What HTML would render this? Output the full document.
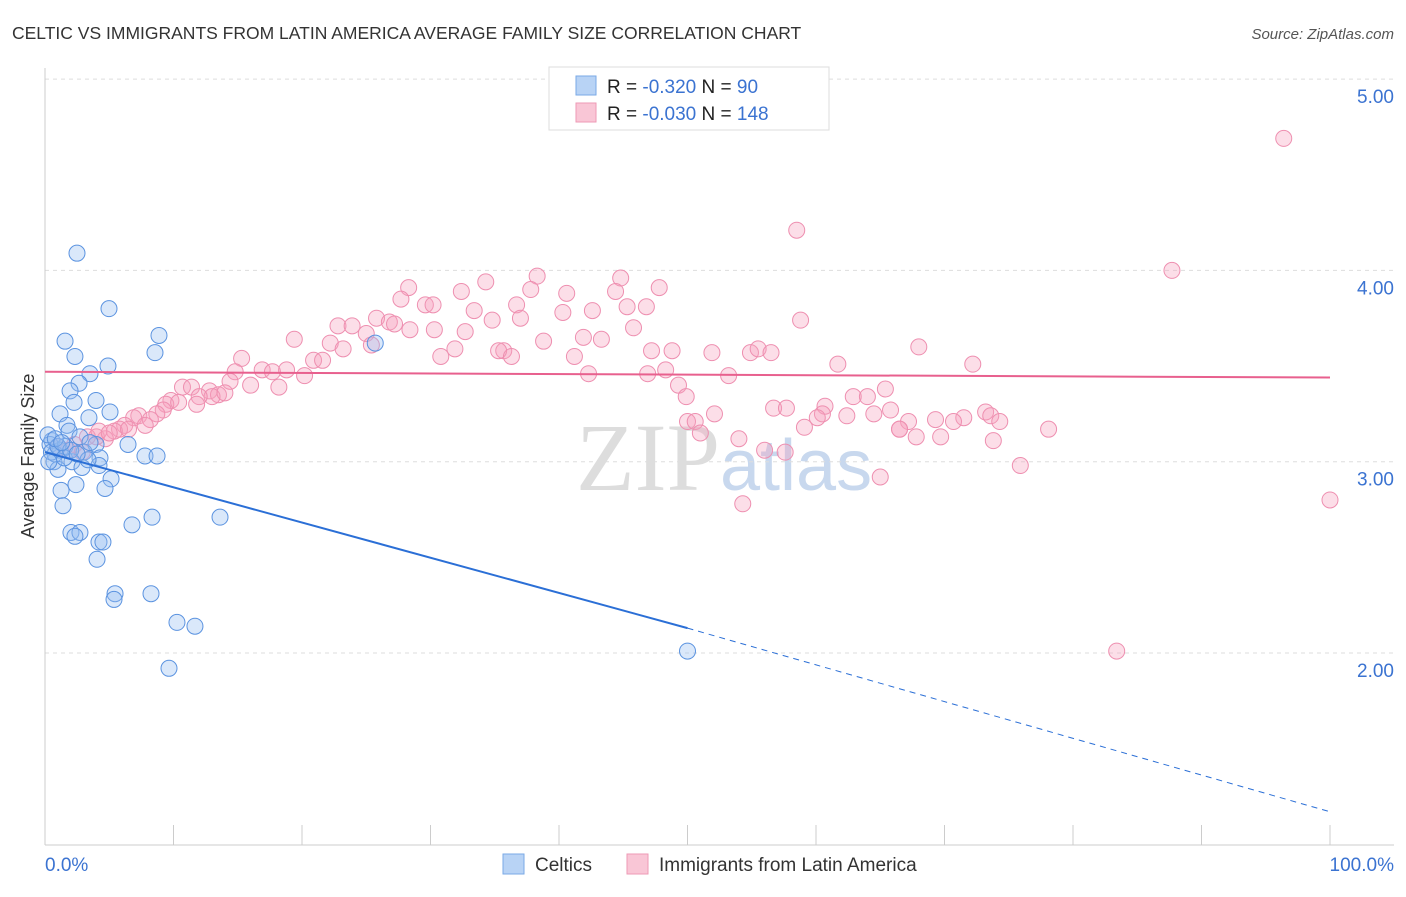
<!DOCTYPE html>
<html><head><meta charset="utf-8"><style>
body{margin:0;background:#fff;font-family:"Liberation Sans",sans-serif;}
</style></head><body>
<svg id="c" width="1406" height="892" xmlns="http://www.w3.org/2000/svg">
<text x="12" y="39" font-size="17.5" fill="#333">CELTIC VS IMMIGRANTS FROM LATIN AMERICA AVERAGE FAMILY SIZE CORRELATION CHART</text>
<text x="1394" y="39" font-size="15" fill="#555" font-style="italic" text-anchor="end">Source: ZipAtlas.com</text>
<text x="720" y="490" font-size="96" fill="#ddd" font-family="Liberation Serif,serif" text-anchor="end">ZIP</text>
<text x="720" y="490" font-size="72" fill="#c8d8ee" text-anchor="start">atlas</text>
<g id="grid"></g><g id="axes"></g><g id="pts"></g><g id="trend"></g>
<g>
<rect x="549" y="67" width="280" height="63" fill="#fff" stroke="#ddd"/>
<rect x="576" y="76" width="20" height="19" fill="#b8d3f5" stroke="#7aaae6"/>
<rect x="576" y="103" width="20" height="19" fill="#f9c6d6" stroke="#ee9ab5"/>
<text x="607" y="93" font-size="19" fill="#222">R = <tspan fill="#3b73d1">-0.320</tspan>   N = <tspan fill="#3b73d1"> 90</tspan></text>
<text x="607" y="120" font-size="19" fill="#222">R = <tspan fill="#3b73d1">-0.030</tspan>   N = <tspan fill="#3b73d1">148</tspan></text>
</g>
<g>
<rect x="503" y="854" width="21" height="20" fill="#b8d3f5" stroke="#7aaae6"/>
<text x="535" y="871" font-size="19" fill="#333">Celtics</text>
<rect x="627" y="854" width="21" height="20" fill="#f9c6d6" stroke="#ee9ab5"/>
<text x="659" y="871" font-size="19" fill="#333">Immigrants from Latin America</text>
</g>
<text x="45" y="871" font-size="19" fill="#3b73d1">0.0%</text>
<text x="1394" y="871" font-size="19" fill="#3b73d1" text-anchor="end">100.0%</text>
<text transform="translate(34,456) rotate(-90)" font-size="18" fill="#333" text-anchor="middle">Average Family Size</text>
</svg>
<script>
const yTicks=[2,3,4,5];
const yTickLabels=["2.00","3.00","4.00","5.00"];
const blueX=[2.49,4.98,1.56,8.87,2.33,8.56,4.9,3.5,2.65,1.95,3.97,2.26,5.06,1.17,3.42,1.71,1.87,2.72,0.54,6.46,3.97,1.17,3.04,4.28,7.78,8.72,0.7,2.1,4.2,2.88,5.14,2.41,1.25,4.67,1.4,8.33,13.62,6.77,2.02,2.72,2.33,4.2,4.51,4.05,5.45,8.25,5.37,10.27,11.67,9.65,50,25.7,0.39,0.78,1.56,3.5,1.01,3.35,0.23,0.5,1.0,1.5,2.0,2.5,0.3,0.8,1.3];
const blueY=[4.09,3.8,3.63,3.66,3.55,3.57,3.5,3.46,3.41,3.37,3.32,3.31,3.26,3.25,3.23,3.19,3.16,3.13,3.11,3.09,3.09,3.06,3.05,3.02,3.03,3.03,3.0,3.0,2.98,2.97,2.91,2.88,2.85,2.86,2.77,2.71,2.71,2.67,2.63,2.63,2.61,2.58,2.58,2.49,2.31,2.31,2.28,2.16,2.14,1.92,2.01,3.62,3.09,3.04,3.08,3.1,2.96,3.01,3.14,3.05,3.08,3.02,3.06,3.04,3.0,3.12,3.1];
const pinkX=[96.4,58.5,87.7,83.4,100,28.3,34.3,38.3,44.8,47.8,32.4,37.8,40.6,44.4,27.7,29.6,30.2,36.7,33.4,45.3,42.6,40.3,46.8,25.8,26.8,37,34.8,22.8,23.9,27.2,30.3,32.7,45.8,58.8,19.4,22.2,23.2,25,25.4,28.4,31.9,38.8,41.9,43.3,35.7,35.3,36.3,30.8,41.2,47.2,48.8,51.9,54.9,55.5,56.5,68,72.2,61.7,15.3,20.9,21.6,16.9,17.7,14.8,20.2,18.8,42.3,46.9,48.3,53.2,14.4,10.7,11.4,16,18.2,49.3,49.9,12.8,13.5,13,12,14,9.8,9.4,10.4,11.8,9.2,65.4,62.9,64,8.7,7.3,6.9,8.2,6.2,5.8,52.1,56.7,57.7,60.7,60.5,64.5,65.8,60.1,62.4,73.2,71.5,73.6,74.3,67.2,66.5,70.7,69.3,50,50.6,51,59.1,66.5,5.4,4.7,4,3.3,4.2,54,67.8,69.7,73.8,78.1,56,57.6,75.9,65,54.3,1.8,2.3,1,2.9,6.5,7.8,5];
const pinkY=[4.69,4.21,4,2.01,2.8,3.91,3.94,3.97,3.96,3.91,3.89,3.9,3.88,3.89,3.85,3.82,3.82,3.82,3.79,3.81,3.79,3.78,3.81,3.75,3.73,3.75,3.74,3.71,3.71,3.72,3.69,3.68,3.7,3.74,3.64,3.62,3.59,3.67,3.61,3.69,3.59,3.63,3.65,3.64,3.58,3.58,3.55,3.55,3.55,3.58,3.58,3.57,3.57,3.59,3.57,3.6,3.51,3.51,3.54,3.53,3.53,3.48,3.47,3.47,3.45,3.48,3.46,3.46,3.48,3.45,3.42,3.39,3.39,3.4,3.39,3.4,3.34,3.37,3.35,3.34,3.34,3.36,3.32,3.3,3.31,3.3,3.27,3.38,3.34,3.34,3.25,3.24,3.23,3.22,3.19,3.17,3.25,3.28,3.28,3.29,3.25,3.25,3.27,3.23,3.24,3.26,3.23,3.24,3.21,3.21,3.17,3.21,3.22,3.21,3.21,3.15,3.18,3.17,3.16,3.12,3.13,3.13,3.16,3.12,3.13,3.13,3.11,3.17,3.06,3.05,2.98,2.92,2.78,3.06,3.09,3.08,3.05,3.17,3.19,3.15];
const blueTrend=[[0,3.05],[50,2.13],[100,1.17]];
const pinkTrend=[[0,3.47],[100,3.44]];
const NS="http://www.w3.org/2000/svg";
const X=v=>45+v*12.85, Y=v=>653-(v-2)*191.3;
function mk(t,a,p){const e=document.createElementNS(NS,t);for(const k in a)e.setAttribute(k,a[k]);document.getElementById(p).appendChild(e);return e;}
yTicks.forEach((t,i)=>{
 const l=mk('line',{x1:45,x2:1394,y1:Y(t),y2:Y(t),stroke:'#ddd','stroke-dasharray':'4,4'},'grid');
 
 
 const tx=mk('text',{x:1394,y:Y(t)+24,'font-size':19,fill:'#3b73d1','text-anchor':'end'},'grid');
 tx.textContent=yTickLabels[i];
 
 
});
const ax=mk('line',{x1:45,x2:45,y1:68,y2:845,stroke:'#ccc'},'axes');


const bx=mk('line',{x1:45,x2:1394,y1:845,y2:845,stroke:'#ccc'},'axes');


for(let i=0;i<=10;i++){const t=mk('line',{x1:X(i*10),x2:X(i*10),y1:825,y2:845,stroke:'#ccc'},'axes');
 
 }
pinkX.forEach((v,i)=>{const c=mk('circle',{cx:X(v),cy:Y(pinkY[i]),r:8,fill:'rgba(246,160,190,0.35)',stroke:'#ee8fb0','stroke-width':1},'pts');
 
 });
blueX.forEach((v,i)=>{const c=mk('circle',{cx:X(v),cy:Y(blueY[i]),r:8,fill:'rgba(150,190,240,0.35)',stroke:'#5b93e0','stroke-width':1},'pts');
 
 });
let l1=mk('line',{x1:X(blueTrend[0][0]),y1:Y(blueTrend[0][1]),x2:X(blueTrend[1][0]),y2:Y(blueTrend[1][1]),stroke:'#2b6fd6','stroke-width':2},'trend');


let l2=mk('line',{x1:X(blueTrend[1][0]),y1:Y(blueTrend[1][1]),x2:X(blueTrend[2][0]),y2:Y(blueTrend[2][1]),stroke:'#2b6fd6','stroke-width':1,'stroke-dasharray':'6,5'},'trend');


let l3=mk('line',{x1:X(pinkTrend[0][0]),y1:Y(pinkTrend[0][1]),x2:X(pinkTrend[1][0]),y2:Y(pinkTrend[1][1]),stroke:'#e8608e','stroke-width':2},'trend');


</script>
</body></html>
